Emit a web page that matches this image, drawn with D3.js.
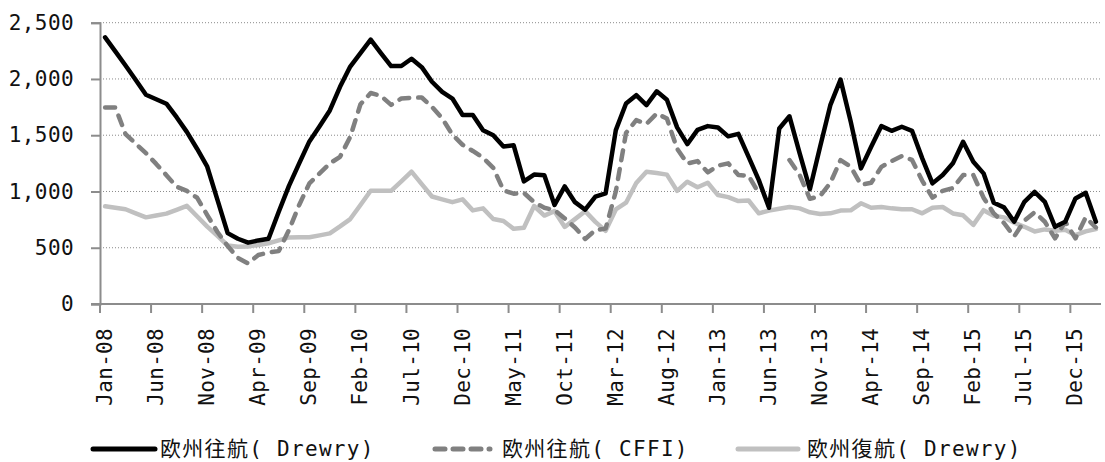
<!DOCTYPE html>
<html>
<head>
<meta charset="utf-8">
<script src="https://cdn.jsdelivr.net/npm/d3@7"></script>
<style>
  body { margin: 0; background: #fff; }
  text { font-family: "DejaVu Sans Mono", "Noto Sans CJK JP", monospace; fill: #111; }
</style>
</head>
<body>
<div id="chart"></div>
<script>
// monthly values, Jan-08 .. Feb-16
const drewryOut = [2370, 2245, 2120, 1990, 1860, 1820, 1780, 1660, 1530, 1380,
  1220, 925, 630, 580, 545, 565, 580, 820, 1050, 1250,
  1445, 1580, 1720, 1930, 2110, 2230, 2350, 2230, 2115, 2115,
  2180, 2105, 1975, 1885, 1826, 1680, 1680, 1545, 1500, 1400,
  1410, 1090, 1150, 1145, 880, 1045, 905, 838, 955, 983,
  1545, 1782, 1856, 1767, 1890, 1815, 1570, 1421, 1548, 1581,
  1569, 1490, 1512, 1308, 1101, 855, 1560, 1668, 1338, 1020,
  1397, 1767, 1994, 1619, 1205, 1397, 1581, 1539, 1575, 1539,
  1294, 1072, 1146, 1250, 1442, 1264, 1161, 900, 859, 731,
  908, 997, 908, 686, 731, 938, 988, 731];

const cffiOut = [1747, 1747, 1510, 1425, 1340, 1245, 1145, 1042, 1005, 945,
  790, 640, 515, 410, 361, 435, 458, 470, 657, 880,
  1072, 1160, 1249, 1308, 1486, 1775, 1875, 1850, 1770, 1826,
  1833, 1835, 1752, 1650, 1505, 1415, 1360, 1300, 1210, 1010,
  980, 988, 905, 855, 835, 760, 680, 578, 657, 670,
  1000, 1520, 1634, 1600, 1693, 1648, 1380, 1249, 1270, 1170,
  1230, 1250, 1146, 1140, 983, null, null, 1279, 1146, 935,
  960, 1075, 1279, 1219, 1060, 1077, 1219, 1270, 1314, 1280,
  1095, 945, 1005, 1030, 1146, 1146, 945, 805, 720, 600,
  740, 815, 731, 583, 731, 583, 770, 680];

const drewryBack = [868, 855, 842, 806, 770, 786, 803, 837, 872, 780,
  688, 605, 520, 508, 510, 525, 540, 565, 592, 593,
  594, 610, 628, 690, 755, 880, 1006, 1006, 1006, 1090,
  1176, 1065, 955, 930, 905, 930, 832, 850, 755, 737,
  668, 678, 871, 786, 825, 685, 754, 825, 730, 650,
  840, 900, 1075, 1176, 1164, 1150, 1005, 1087, 1037, 1078,
  968, 950, 915, 920, 806, 830, 846, 862, 850, 815,
  800, 806, 830, 833, 895, 855, 862, 850, 842, 842,
  806, 855, 862, 805, 788, 703, 834, 785, 770, 722,
  686, 645, 663, 652, 660, 612, 645, 665];

const yTicks = [0, 500, 1000, 1500, 2000, 2500];
const seriesNames = ["欧州往航( Drewry)", "欧州往航( CFFI)", "欧州復航( Drewry)"];

const width = 1105, height = 462;
const plot = { left: 100, right: 1101, top: 22.7, bottom: 304 };

const months = d3.timeMonth.range(new Date(2008, 0, 1), new Date(2016, 2, 1));
const fmt = d3.timeFormat("%b-%y");

const svg = d3.select("#chart").append("svg")
  .attr("width", width)
  .attr("height", height);

const x = d3.scaleBand()
  .domain(months.map((d, i) => i))
  .range([plot.left, plot.right])
  .padding(0);

const y = d3.scaleLinear()
  .domain([0, 2500])
  .range([plot.bottom, plot.top]);

const cx = i => x(i) + x.bandwidth() / 2;

// gridlines
svg.append("g")
  .selectAll("line")
  .data(yTicks.filter(d => d > 0))
  .join("line")
  .attr("x1", plot.left)
  .attr("x2", plot.right)
  .attr("y1", d => y(d))
  .attr("y2", d => y(d))
  .attr("stroke", "#8a8a8a")
  .attr("stroke-width", 1)
  .attr("stroke-dasharray", "1,2");

// y axis
const yAxis = svg.append("g")
  .attr("transform", `translate(${plot.left},0)`)
  .call(d3.axisLeft(y).tickValues(yTicks).tickSize(9).tickPadding(17)
    .tickFormat(d3.format(",")));
yAxis.select(".domain").attr("stroke", "#8c8c8c").attr("stroke-width", 2);
yAxis.selectAll(".tick line").attr("stroke", "#8c8c8c").attr("stroke-width", 2);
yAxis.selectAll(".tick text")
  .style("font-size", "21px")
  .style("letter-spacing", "0.4px")
  .attr("fill", "#111");

// x axis: ticks at category boundaries every 5 months
const labelIdx = months.map((d, i) => i).filter(i => i % 5 === 0);
const xg = svg.append("g");
xg.append("line")
  .attr("x1", plot.left - 9)
  .attr("x2", plot.right)
  .attr("y1", plot.bottom)
  .attr("y2", plot.bottom)
  .attr("stroke", "#8c8c8c")
  .attr("stroke-width", 2);
xg.selectAll("line.tk")
  .data(labelIdx)
  .join("line")
  .attr("class", "tk")
  .attr("x1", d => x(d))
  .attr("x2", d => x(d))
  .attr("y1", plot.bottom)
  .attr("y2", plot.bottom + 9)
  .attr("stroke", "#8c8c8c")
  .attr("stroke-width", 2);
xg.selectAll("text")
  .data(labelIdx)
  .join("text")
  .attr("transform", d => `translate(${cx(d)},${plot.bottom + 24}) rotate(-90)`)
  .attr("text-anchor", "end")
  .attr("dominant-baseline", "central")
  .style("font-size", "21px")
  .style("letter-spacing", "0.3px")
  .text(d => fmt(months[d]));

// lines
const line = d3.line()
  .defined(d => d != null)
  .x((d, i) => cx(i))
  .y(d => y(d));

const styles = [
  { data: drewryOut, color: "#000", dash: null },
  { data: cffiOut, color: "#808080", dash: "10,9" },
  { data: drewryBack, color: "#c0c0c0", dash: null }
];

// draw light line first, then dashed, then black on top
[2, 1, 0].forEach(k => {
  const s = styles[k];
  svg.append("path")
    .datum(s.data)
    .attr("d", line)
    .attr("fill", "none")
    .attr("stroke", s.color)
    .attr("stroke-width", 4.5)
    .attr("stroke-linejoin", "round")
    .attr("stroke-linecap", "round")
    .attr("stroke-dasharray", s.dash);
});

// legend
const legendPos = [
  { x1: 93, x2: 155, tx: 160 },
  { x1: 435, x2: 490, tx: 502 },
  { x1: 738, x2: 798, tx: 807 }
];
const legend = svg.append("g");
seriesNames.forEach((name, k) => {
  const p = legendPos[k], s = styles[k];
  legend.append("line")
    .attr("x1", p.x1).attr("x2", p.x2)
    .attr("y1", 449).attr("y2", 449)
    .attr("stroke", s.color)
    .attr("stroke-width", 5)
    .attr("stroke-linecap", "round")
    .attr("stroke-dasharray", s.dash ? "10,8" : null);
  legend.append("text")
    .attr("x", p.tx)
    .attr("y", 449)
    .attr("dominant-baseline", "central")
    .style("font-size", "21px")
    .style("letter-spacing", "1.3px")
    .text(name);
});
</script>
</body>
</html>
